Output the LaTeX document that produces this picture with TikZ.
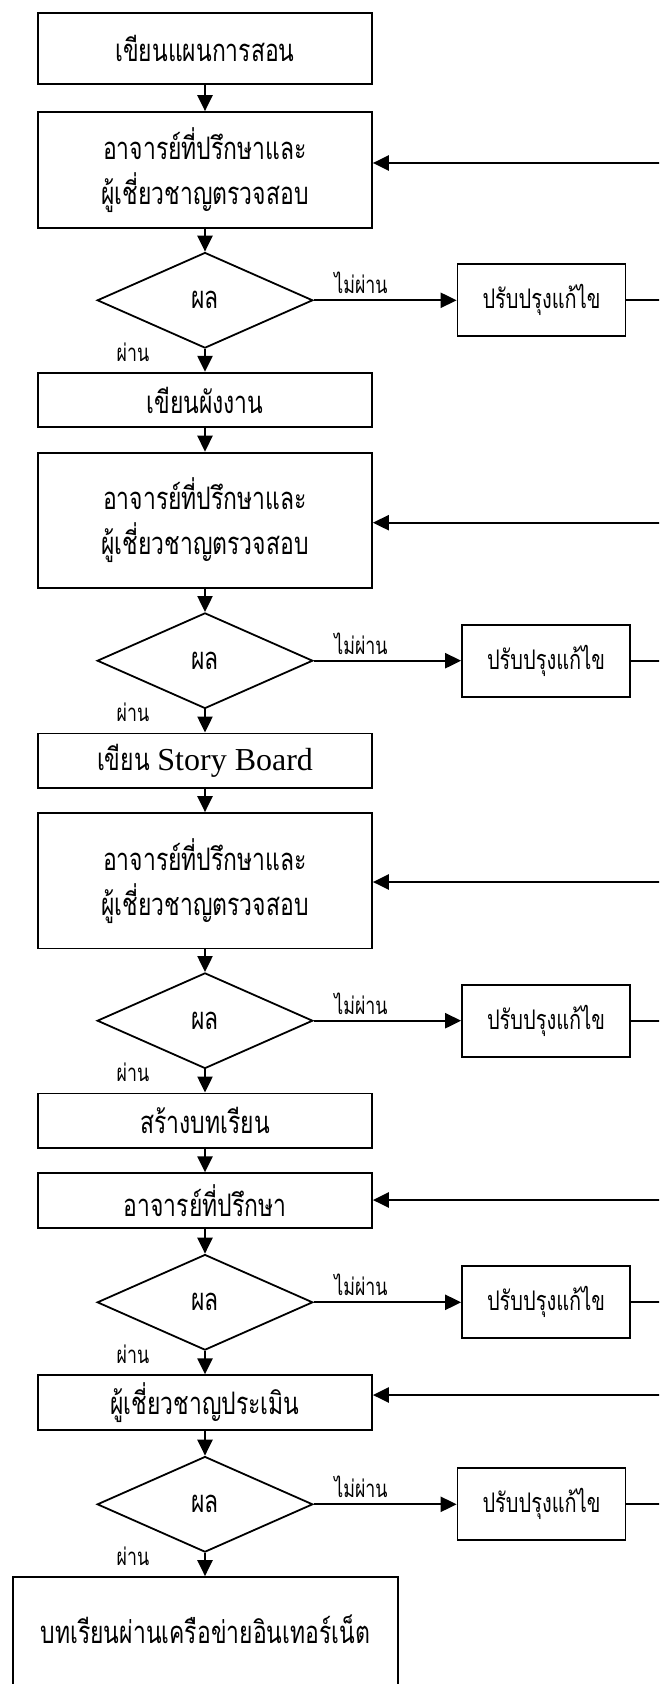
\documentclass[tikz,border=0pt]{standalone}
\usepackage{fontspec}
\setmainfont{Liberation Serif}
\newfontfamily\thai[Script=Thai,FakeStretch=0.74]{Loma}
\usetikzlibrary{arrows.meta,shapes.geometric}

\tikzset{
  flow/.style={line width=0.9pt},
  arr/.style={flow,-{Triangle[length=8pt,width=7.6pt]}},
  boxtext/.style={font=\thai\fontsize{15.5}{22.5}\selectfont},
  stepbox/.style={flow,draw,rectangle,inner sep=0pt,align=center,
                  minimum width=167pt,boxtext},
  shortbox/.style={stepbox,minimum height=27.3pt},
  tallbox/.style={stepbox,minimum height=67.7pt},
  decision/.style={flow,draw,diamond,inner sep=0pt,shape aspect=2.25,
                   minimum width=107.8pt,minimum height=47.8pt,boxtext},
  fixbox/.style={flow,draw,rectangle,inner sep=0pt,
                 minimum width=84pt,minimum height=36pt,
                 font=\thai\fontsize{13.5}{16}\selectfont},
  lbl/.style={inner sep=0pt,font=\thai\fontsize{12}{14}\selectfont},
}

\begin{document}
\begin{tikzpicture}[x=0.5pt,y=-0.5pt]
\useasboundingbox (0,0) rectangle (659,1684);
\clip (0,0) rectangle (659,1684);

% ---- lesson plan ----
\node[stepbox,minimum height=35.8pt] (b1) at (205,48.5) {เขียนแผนการสอน};
\node[stepbox,minimum height=58pt]   (b2) at (205,170) {อาจารย์ที่ปรึกษาและ\\ผู้เชี่ยวชาญตรวจสอบ};
\node[decision] (d1) at (205,300.3) {ผล};
\node[fixbox]   (f1) at (541.5,300.3) {ปรับปรุงแก้ไข};
\node[lbl] (n1) at (361,283) {ไม่ผ่าน};
\node[lbl] (p1) at (133,352) {ผ่าน};
\coordinate (r1) at (700,163);

% ---- flowchart ----
\node[shortbox] (b3) at (205,400) {เขียนผังงาน};
\node[tallbox]  (b4) at (205,520.3) {อาจารย์ที่ปรึกษาและ\\ผู้เชี่ยวชาญตรวจสอบ};
\node[decision] (d2) at (205,660.7) {ผล};
\node[fixbox]   (f2) at (546,660.7) {ปรับปรุงแก้ไข};
\node[lbl] (n2) at (361,643.4) {ไม่ผ่าน};
\node[lbl] (p2) at (133,712.4) {ผ่าน};
\coordinate (r2) at (700,522.7);

% ---- story board ----
\node[shortbox] (b5) at (205,760.7)
  {เขียน {\rmfamily\fontsize{16}{19}\selectfont Story Board}};
\node[tallbox]  (b6) at (205,880.7) {อาจารย์ที่ปรึกษาและ\\ผู้เชี่ยวชาญตรวจสอบ};
\node[decision] (d3) at (205,1020.7) {ผล};
\node[fixbox]   (f3) at (546,1020.7) {ปรับปรุงแก้ไข};
\node[lbl] (n3) at (361,1003.4) {ไม่ผ่าน};
\node[lbl] (p3) at (133,1072.4) {ผ่าน};
\coordinate (r3) at (700,882);

% ---- lesson building ----
\node[shortbox] (b7) at (205,1120.7) {สร้างบทเรียน};
\node[shortbox] (b8) at (205,1200.5) {อาจารย์ที่ปรึกษา};
\node[decision] (d4) at (205,1302.3) {ผล};
\node[fixbox]   (f4) at (546,1302.3) {ปรับปรุงแก้ไข};
\node[lbl] (n4) at (361,1285) {ไม่ผ่าน};
\node[lbl] (p4) at (133,1354) {ผ่าน};
\coordinate (r4) at (700,1200);

% ---- expert evaluation ----
\node[shortbox] (b9) at (205,1402.5) {ผู้เชี่ยวชาญประเมิน};
\node[decision] (d5) at (205,1504.3) {ผล};
\node[fixbox]   (f5) at (541.5,1504.3) {ปรับปรุงแก้ไข};
\node[lbl] (n5) at (361,1487) {ไม่ผ่าน};
\node[lbl] (p5) at (133,1556) {ผ่าน};
\coordinate (r5) at (700,1395);

% the last box runs past the lower edge of the sheet
\node[stepbox,minimum width=192.6pt,minimum height=61pt] (b10) at (205.3,1638)
  {\raisebox{9pt}{บทเรียนผ่านเครือข่ายอินเทอร์เน็ต}};

% ---- main flow ----
\draw[arr] (b1) -- (b2);
\draw[arr] (b2) -- (d1);
\draw[arr] (d1) -- (b3);
\draw[arr] (b3) -- (b4);
\draw[arr] (b4) -- (d2);
\draw[arr] (d2) -- (b5);
\draw[arr] (b5) -- (b6);
\draw[arr] (b6) -- (d3);
\draw[arr] (d3) -- (b7);
\draw[arr] (b7) -- (b8);
\draw[arr] (b8) -- (d4);
\draw[arr] (d4) -- (b9);
\draw[arr] (b9) -- (d5);
\draw[arr] (d5) -- (b10.north -| d5);

% ---- rejected branches and their return lines ----
\foreach \d/\f/\r/\b in {d1/f1/r1/b2, d2/f2/r2/b4, d3/f3/r3/b6, d4/f4/r4/b8, d5/f5/r5/b9}{
  \draw[arr] (\d.east) -- (\f.west);
  \draw[arr] (\f.east) -| (\r) -- (\b.east |- \r);
}
\end{tikzpicture}
\end{document}
